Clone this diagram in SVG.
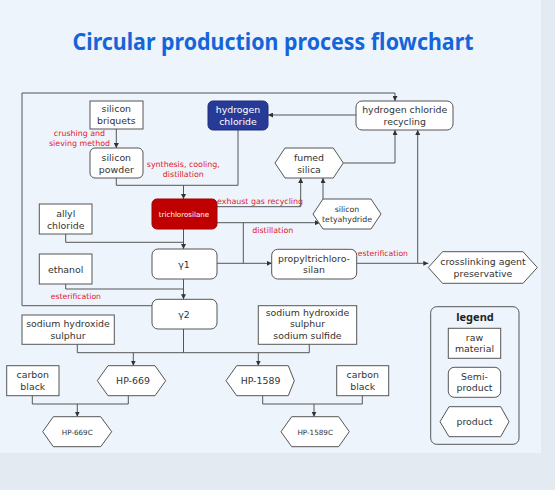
<svg xmlns="http://www.w3.org/2000/svg" width="555" height="490" viewBox="0 0 555 490">
<defs>
<marker id="arr" viewBox="0 0 8 8" refX="8" refY="4" markerWidth="5" markerHeight="5" orient="auto" markerUnits="userSpaceOnUse">
<path d="M0,0 L8,4 L0,8 z" fill="#333"/>
</marker>
<style>
.bx{fill:#fff;stroke:#555;stroke-width:1}
.t{font-family:"DejaVu Sans","Noto Sans",sans-serif;font-size:9.4px;fill:#333;text-anchor:middle}
.s{font-size:7.8px}
.lb{font-family:"DejaVu Sans","Noto Sans",sans-serif;font-size:7.9px;fill:#E3202A}
.c{fill:none;stroke:#555;stroke-width:1}
.a{marker-end:url(#arr)}
</style>
</defs>
<rect x="0" y="0" width="555" height="490" fill="#E3EAF2"/>
<rect x="0" y="0" width="541" height="453" fill="#EEF4FC"/>
<text x="273" y="50" font-family="'Noto Sans','Liberation Sans',sans-serif" font-size="23" font-weight="bold" fill="#1565DA" text-anchor="middle" textLength="401" lengthAdjust="spacingAndGlyphs">Circular production process flowchart</text>

<g id="connectors">
<path class="c a" d="M116.3,129 V148"/>
<path class="c" d="M116.3,178 V185.3 H238 V130"/>
<path class="c a" d="M183.5,185.3 V199"/>
<path class="c a" d="M217,206.7 H300.7 V178"/>
<path class="c a" d="M217,222.7 H320"/>
<path class="c a" d="M323,199 V178"/>
<path class="c a" d="M343.3,163 H395 V130"/>
<path class="c a" d="M356,115 H268"/>
<path class="c a" d="M152,305.7 H22 V93 H395 V101"/>
<path class="c a" d="M183.5,229 V249"/>
<path class="c" d="M65.7,234 V242.3 H183.5"/>
<path class="c a" d="M217,263.3 H271.7"/>
<path class="c" d="M243.3,222.7 V263.3"/>
<path class="c a" d="M183.5,279 V299.3"/>
<path class="c" d="M65.7,284 V289 H183.5"/>
<path class="c a" d="M357,263.3 H428.3"/>
<path class="c a" d="M417.7,263.3 V130"/>
<path class="c" d="M183.5,329 V352.7"/>
<path class="c" d="M77.3,344 V352.7 H309.3 V344"/>
<path class="c a" d="M133.3,352.7 V365.7"/>
<path class="c a" d="M258.3,352.7 V365.7"/>
<path class="c" d="M32.3,395.7 V404 H128.3 V395.7"/>
<path class="c a" d="M77.3,404 V416.7"/>
<path class="c" d="M262.7,395.7 V404 H362.3 V395.7"/>
<path class="c a" d="M314,404 V416.7"/>
</g>

<g id="labels">
<text class="lb" x="79.5" y="136" text-anchor="middle">crushing and</text>
<text class="lb" x="79.5" y="145.7" text-anchor="middle">sieving method</text>
<text class="lb" x="183.3" y="167" text-anchor="middle">synthesis, cooling,</text>
<text class="lb" x="183.3" y="177" text-anchor="middle">distillation</text>
<text class="lb" x="217" y="203.5">exhaust gas recycling</text>
<text class="lb" x="252.3" y="233">distillation</text>
<text class="lb" x="50.7" y="298.5" style="font-size:7.7px">esterification</text>
<text class="lb" x="357.7" y="256" style="font-size:7.7px">esterification</text>
</g>

<g id="silicon-briquets">
<rect class="bx" x="90" y="101" width="53" height="28"/>
<text class="t" x="116.3" y="112.3">silicon</text>
<text class="t" x="116.3" y="124.3">briquets</text>
</g>
<g id="silicon-powder">
<rect class="bx" x="90" y="148" width="53" height="30" rx="5"/>
<text class="t" x="116.3" y="160.7">silicon</text>
<text class="t" x="116.3" y="172.5">powder</text>
</g>
<g id="hydrogen-chloride">
<rect x="208" y="101" width="60" height="29" rx="5" fill="#283A97" stroke="#1E2D78"/>
<text class="t" x="238" y="113" style="fill:#fff">hydrogen</text>
<text class="t" x="238" y="125" style="fill:#fff">chloride</text>
</g>
<g id="hcl-recycling">
<rect class="bx" x="356" y="101" width="97" height="29" rx="6"/>
<text class="t" x="404.7" y="113">hydrogen chloride</text>
<text class="t" x="404.7" y="125">recycling</text>
</g>
<g id="fumed-silica">
<polygon class="bx" points="275,163 285,148 333.3,148 343.3,163 333.3,178 285,178"/>
<text class="t" x="309" y="160.5">fumed</text>
<text class="t" x="309" y="172.5">silica</text>
</g>
<g id="trichlorosilane">
<rect x="152" y="199" width="65" height="30" rx="5" fill="#C00000" stroke="#A00000"/>
<text class="t" x="184" y="216.5" style="fill:#fff;font-size:7.1px">trichlorosilane</text>
</g>
<g id="silicon-tetyahydride">
<polygon class="bx" points="313,214 323,199 371,199 381,214 371,229 323,229"/>
<text class="t s" x="347" y="211.5">silicon</text>
<text class="t s" x="347" y="222">tetyahydride</text>
</g>
<g id="allyl-chloride">
<rect class="bx" x="39.3" y="204" width="52.7" height="30"/>
<text class="t" x="65.7" y="216.5">allyl</text>
<text class="t" x="65.7" y="228.5">chloride</text>
</g>
<g id="y1">
<rect class="bx" x="152" y="249" width="65" height="30" rx="6"/>
<text class="t" x="184" y="267.7">γ1</text>
</g>
<g id="ethanol">
<rect class="bx" x="39.3" y="254" width="52.7" height="30"/>
<text class="t" x="65.7" y="272.7">ethanol</text>
</g>
<g id="y2">
<rect class="bx" x="152" y="299.3" width="65" height="29.7" rx="6"/>
<text class="t" x="184" y="317.7">γ2</text>
</g>
<g id="propyltrichlorosilan">
<rect class="bx" x="271.7" y="249.3" width="85" height="29.7" rx="6"/>
<text class="t" x="314" y="261.7">propyltrichloro-</text>
<text class="t" x="314" y="273.3">silan</text>
</g>
<g id="crosslinking">
<polygon class="bx" points="428.3,267.5 442.5,251.7 523,251.7 537.3,267.5 523,283.3 442.5,283.3"/>
<text class="t" x="483" y="265">crosslinking agent</text>
<text class="t" x="483" y="276.5">preservative</text>
</g>
<g id="naoh-s">
<rect class="bx" x="22" y="315" width="92.3" height="29.3"/>
<text class="t" x="68" y="327">sodium hydroxide</text>
<text class="t" x="68" y="338.7">sulphur</text>
</g>
<g id="naoh-s-na2s">
<rect class="bx" x="258.3" y="305.7" width="98.4" height="38.6"/>
<text class="t" x="307.5" y="316">sodium hydroxide</text>
<text class="t" x="307.5" y="327.4">sulphur</text>
<text class="t" x="307.5" y="338.8">sodium sulfide</text>
</g>
<g id="hp-669">
<polygon class="bx" points="97.3,380.7 108,365.7 155,365.7 165.7,380.7 155,395.7 108,395.7"/>
<text class="t" x="133" y="384.4">HP-669</text>
</g>
<g id="hp-1589">
<polygon class="bx" points="226,380.7 236.7,365.7 288.3,365.7 294.3,380.7 288.3,395.7 236.7,395.7"/>
<text class="t" x="260.5" y="384.4">HP-1589</text>
</g>
<g id="carbon-black-1">
<rect class="bx" x="6.7" y="365.7" width="52.3" height="30"/>
<text class="t" x="32.8" y="377.7">carbon</text>
<text class="t" x="32.8" y="389.5">black</text>
</g>
<g id="carbon-black-2">
<rect class="bx" x="336.7" y="365.7" width="52" height="30"/>
<text class="t" x="362.7" y="377.7">carbon</text>
<text class="t" x="362.7" y="389.5">black</text>
</g>
<g id="hp-669c">
<polygon class="bx" points="42.7,431.7 53.3,416.7 100.7,416.7 111.7,431.7 100.7,446.7 53.3,446.7"/>
<text class="t" x="77.2" y="434.5" style="font-size:7.2px">HP-669C</text>
</g>
<g id="hp-1589c">
<polygon class="bx" points="281,431.7 291.7,416.7 338.7,416.7 349.3,431.7 338.7,446.7 291.7,446.7"/>
<text class="t" x="315.2" y="434.5" style="font-size:7.2px">HP-1589C</text>
</g>
<g id="legend">
<rect x="430.7" y="306.7" width="88.3" height="137.6" rx="6" fill="none" stroke="#555"/>
<text x="475" y="320.5" font-family="'Noto Sans','Liberation Sans',sans-serif" font-size="11" font-weight="bold" fill="#222" text-anchor="middle">legend</text>
<rect class="bx" x="448.3" y="328.3" width="52.4" height="30"/>
<text class="t" x="474.5" y="340.5">raw</text>
<text class="t" x="474.5" y="352.3">material</text>
<rect class="bx" x="448.3" y="367.3" width="52.4" height="30" rx="6"/>
<text class="t" x="474.5" y="379.5">Semi-</text>
<text class="t" x="474.5" y="391.3">product</text>
<polygon class="bx" points="440,421.7 449,406.7 500.7,406.7 509,421.7 500.7,436.7 449,436.7"/>
<text class="t" x="474.5" y="425.3">product</text>
</g>
</svg>
